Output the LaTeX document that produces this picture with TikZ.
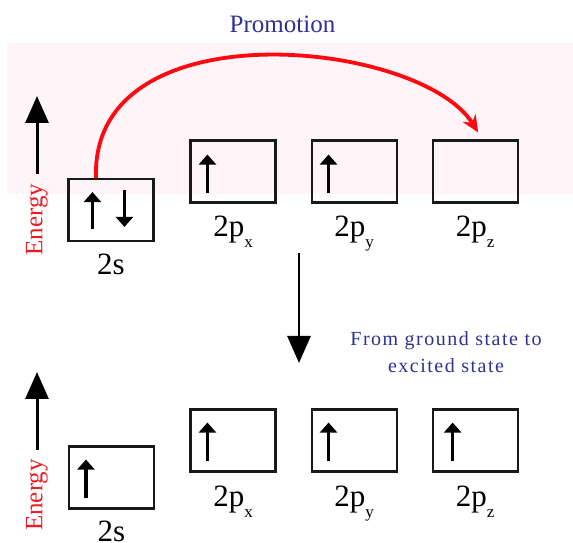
\documentclass[tikz,border=0pt]{standalone}
\usepackage{fontspec}
\setmainfont{Liberation Serif}
\newfontfamily\spacedfont[LetterSpace=7.5]{Liberation Serif}
\usetikzlibrary{arrows.meta,positioning}
\definecolor{promoblue}{RGB}{46,49,146}
\definecolor{energyred}{RGB}{237,28,36}
\definecolor{arcred}{RGB}{255,8,16}
\definecolor{bandpink}{RGB}{255,244,247}
\newcommand{\orbsub}[1]{\raisebox{-11pt}{\fontsize{17}{17}\selectfont #1}}

\begin{document}
\begin{tikzpicture}[
  x=1pt,y=1pt,
  orb/.style={
    draw=black!90,
    line width=2.1pt,
    minimum width=85pt,
    minimum height=62pt,
    inner sep=0pt
  },
  lbl/.style={font=\fontsize{31}{31}\selectfont,inner sep=0pt,anchor=base},
  spin/.style={line width=3.4pt,-{Triangle[width=17pt,length=10pt]}},
  energy/.style={line width=3pt,-{Triangle[width=23pt,length=27pt]}},
  entext/.style={text=energyred,rotate=90,font=\fontsize{25}{25}\selectfont,inner sep=0pt},
  promo/.style={draw=arcred,line width=3.8pt,-{Stealth[length=17pt,width=15pt]}},
  bluetext/.style={text=promoblue}
]
\useasboundingbox (0,0) rectangle (573,543);
\fill[bandpink] (7,349) rectangle (573,500);
\node[bluetext,font=\fontsize{25}{25}\selectfont,anchor=base] (promo) at (282.5,510) {Promotion};

\node[orb] (s2a) at (111,333) {};
\node[orb] (pxa) at (233,371.5) {};
\node[orb,right=34pt of pxa] (pya) {};
\node[orb,right=34pt of pya] (pza) {};
\node[below=32pt of s2a,lbl] (s2alab) {2s};
\node[below=33pt of pxa,lbl] (pxalab) {2p\orbsub{x}};
\node[below=33pt of pya,lbl] (pyalab) {2p\orbsub{y}};
\node[below=33pt of pza,lbl] (pzalab) {2p\orbsub{z}};
\draw[spin] ([shift={(25,13)}]s2a.south west) -- ++(0,37);
\draw[spin] ([shift={(57,-12)}]s2a.north west) -- ++(0,-37);
\draw[spin] ([shift={(18,11)}]pxa.south west) -- ++(0,38);
\draw[spin] ([shift={(18,11)}]pya.south west) -- ++(0,38);
\node[entext] (ena) at (37,323.5) {Energy};
\coordinate (enatop) at (37,447);
\draw[energy] ([yshift=9pt]ena.east) -- (enatop);
\draw[promo] ([xshift=-15pt]s2a.north) .. controls +(-6,172) and +(-58,93) .. ([shift={(3,7)}]pza.north);

\coordinate (downtop) at (299,290);
\coordinate (downtip) at (299,180);
\draw[energy,line width=2.8pt] (downtop) -- (downtip);
\node[bluetext,font=\spacedfont\fontsize{20}{27}\selectfont,align=center] (expl) at (446,191) {From ground state to\\excited state};

\node[orb] (s2b) at (111.5,65.5) {};
\node[orb] (pxb) at (233,102.5) {};
\node[orb,right=34pt of pxb] (pyb) {};
\node[orb,right=34pt of pyb] (pzb) {};
\node[below=32pt of s2b,lbl] (s2blab) {2s};
\node[below=34pt of pxb,lbl] (pxblab) {2p\orbsub{x}};
\node[below=34pt of pyb,lbl] (pyblab) {2p\orbsub{y}};
\node[below=34pt of pzb,lbl] (pzblab) {2p\orbsub{z}};
\draw[spin] ([shift={(18,12)}]s2b.south west) -- ++(0,38);
\draw[spin] ([shift={(18,12)}]pxb.south west) -- ++(0,38);
\draw[spin] ([shift={(18,12)}]pyb.south west) -- ++(0,38);
\draw[spin] ([shift={(21,12)}]pzb.south west) -- ++(0,38);
\node[entext] (enb) at (37,48) {Energy};
\coordinate (enbtop) at (37,171);
\draw[energy] ([yshift=9pt]enb.east) -- (enbtop);
\end{tikzpicture}
\end{document}
